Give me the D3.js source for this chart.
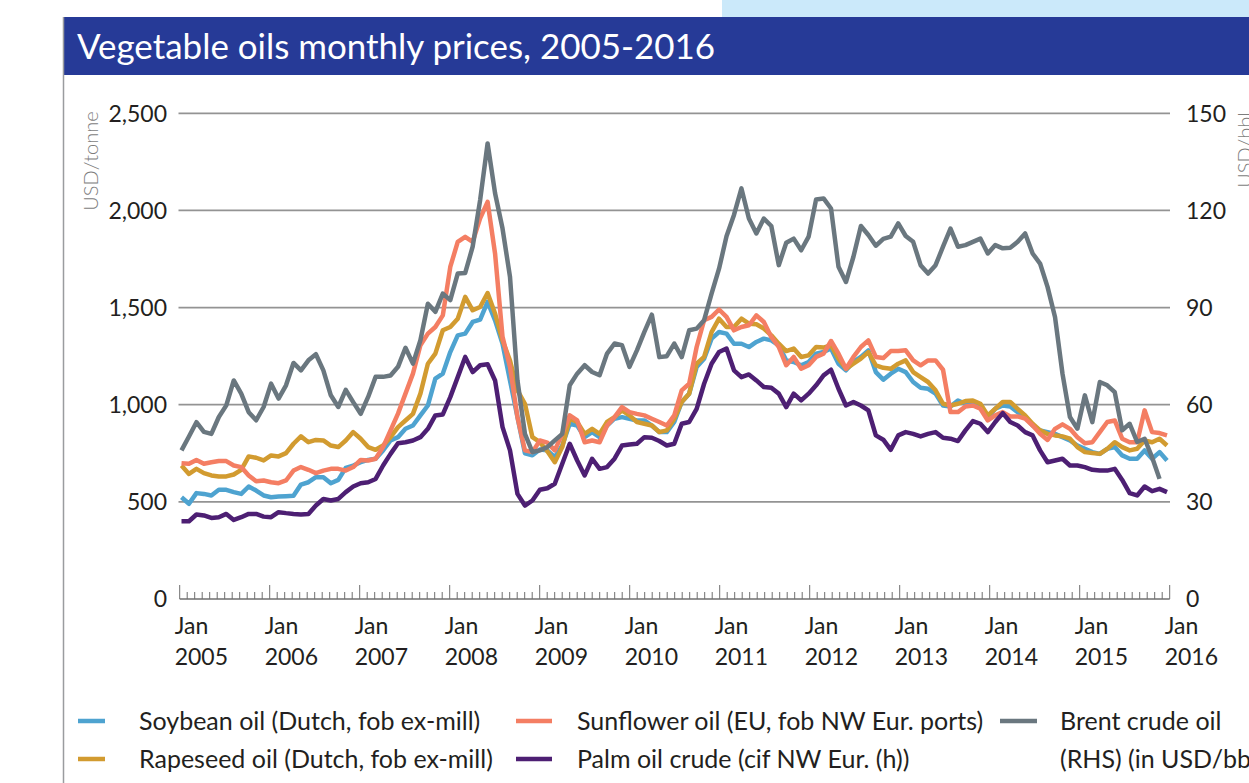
<!DOCTYPE html>
<html>
<head>
<meta charset="utf-8">
<script src="https://cdn.jsdelivr.net/npm/d3@7/dist/d3.min.js"></script>
<style>
  html, body { margin: 0; padding: 0; background: #fff; }
  svg { display: block; font-family: Lato, "Open Sans", sans-serif; }
</style>
</head>
<body>
<div id="chart"></div>
<script>
// monthly values, Jan 2005 onwards
const years = ["2005", "2006", "2007", "2008", "2009", "2010", "2011", "2012", "2013", "2014", "2015", "2016"];
const leftTicks = [0, 500, 1000, 1500, 2000, 2500];
const rightTicks = [0, 30, 60, 90, 120, 150];

const soybean = [
  524, 490, 545, 541, 533, 562, 562, 550, 541, 579, 558, 533,
  524, 527, 529, 531, 589, 601, 627, 627, 596, 613, 675, 687,
  704, 716, 722, 765, 816, 833, 876, 893, 945, 996, 1134, 1160,
  1271, 1357, 1366, 1426, 1438, 1529, 1434, 1314, 1125, 936, 750, 740,
  770, 765, 730, 790, 902, 893, 833, 859, 833, 893, 928, 936,
  928, 919, 919, 893, 859, 859, 911, 1014, 1057, 1194, 1237, 1340,
  1374, 1366, 1314, 1314, 1297, 1323, 1340, 1331, 1306, 1228, 1220, 1203,
  1220, 1263, 1271, 1289, 1211, 1177, 1220, 1246, 1280, 1168, 1129, 1160,
  1185, 1168, 1117, 1087, 1082, 1057, 996, 991, 1022, 1005, 1014, 988,
  936, 979, 996, 991, 962, 936, 893, 868, 859, 850, 833, 816,
  790, 773, 756, 747, 773, 782, 739, 722, 722, 765, 722, 756,
  713
];
const sunflower = [
  699, 696, 716, 696, 704, 710, 710, 687, 679, 636, 606, 610,
  601, 596, 610, 661, 679, 665, 648, 661, 670, 670, 661, 679,
  716, 713, 722, 782, 868, 954, 1057, 1160, 1306, 1366, 1400, 1460,
  1709, 1838, 1864, 1838, 1959, 2044, 1778, 1349, 1194, 936, 765, 756,
  816, 805, 765, 850, 945, 919, 807, 816, 807, 893, 936, 988,
  962, 953, 945, 928, 911, 893, 945, 1074, 1108, 1297, 1435, 1452,
  1490, 1452, 1383, 1400, 1409, 1460, 1426, 1349, 1297, 1203, 1246, 1185,
  1203, 1246, 1263, 1328, 1263, 1185, 1246, 1297, 1331, 1246, 1240, 1276,
  1276, 1280, 1228, 1203, 1228, 1228, 1180, 962, 962, 991, 996, 979,
  919, 945, 962, 940, 940, 928, 893, 850, 819, 876, 899, 876,
  833, 802, 807, 859, 911, 919, 825, 807, 807, 971, 859, 854,
  842
];
const rapeseed = [
  687, 644, 670, 648, 636, 631, 631, 641, 665, 734, 727, 713,
  739, 734, 751, 799, 837, 807, 819, 816, 790, 782, 816, 859,
  825, 782, 768, 790, 833, 885, 919, 953, 1057, 1211, 1263, 1383,
  1400, 1443, 1555, 1486, 1503, 1575, 1469, 1331, 1228, 1074, 1005, 833,
  807, 760, 704, 782, 928, 911, 850, 876, 850, 911, 936, 971,
  945, 911, 902, 893, 859, 868, 928, 1014, 1057, 1211, 1246, 1374,
  1443, 1400, 1400, 1443, 1417, 1414, 1392, 1357, 1314, 1276, 1289, 1246,
  1254, 1297, 1294, 1306, 1237, 1185, 1211, 1237, 1271, 1203, 1190, 1185,
  1211, 1228, 1168, 1142, 1117, 1074, 1005, 996, 1005, 1019, 1022, 1005,
  945, 979, 1014, 1014, 979, 945, 902, 868, 850, 842, 837, 825,
  782, 756, 751, 747, 773, 807, 782, 765, 773, 816, 807, 825,
  790
];
const palm = [
  400, 400, 435, 430, 417, 421, 438, 407, 421, 438, 438, 424,
  421, 447, 442, 438, 435, 438, 481, 515, 507, 515, 550, 579,
  596, 601, 618, 687, 747, 802, 807, 816, 833, 876, 945, 950,
  1039, 1142, 1246, 1168, 1203, 1208, 1125, 885, 765, 541, 481, 507,
  562, 570, 593, 696, 799, 713, 636, 722, 670, 679, 722, 790,
  795, 799, 833, 830, 813, 790, 799, 902, 911, 979, 1108, 1211,
  1271, 1289, 1177, 1142, 1156, 1125, 1091, 1087, 1057, 988, 1057, 1022,
  1057, 1100, 1151, 1180, 1082, 996, 1014, 996, 971, 842, 820, 768,
  842, 859, 850, 837, 850, 859, 830, 825, 813, 868, 916, 902,
  859, 911, 957, 911, 893, 859, 842, 765, 704, 713, 722, 687,
  687, 679, 665, 661, 661, 670, 613, 545, 533, 579, 555, 567,
  550
];
// USD/bbl, right hand scale
const brent = [
  45.9, 50.2, 54.6, 51.6, 51.0, 56.2, 59.8, 67.5, 63.4, 57.7, 55.2, 59.3,
  66.5, 61.9, 66.0, 72.9, 70.6, 73.7, 75.6, 70.6, 62.9, 59.3, 64.6, 60.8,
  57.2, 62.4, 68.6, 68.6, 69.0, 71.7, 77.6, 72.7, 79.9, 91.2, 88.7, 94.3,
  92.3, 100.5, 100.7, 108.8, 123.2, 140.7, 125.3, 114.4, 99.5, 67.5, 51.0, 45.4,
  45.9, 46.9, 49.0, 51.0, 66.0, 69.6, 72.2, 70.1, 69.1, 75.8, 78.9, 78.4,
  71.7, 76.8, 82.5, 87.8, 74.7, 75.0, 78.9, 74.7, 83.0, 83.5, 86.1, 94.3,
  102.0, 112.0, 118.6, 126.8, 117.5, 112.9, 117.5, 115.2, 103.1, 110.0, 111.3, 107.7,
  111.9, 123.4, 123.7, 120.6, 102.6, 97.9, 105.7, 115.2, 112.4, 109.1, 111.2, 111.9,
  116.0, 112.1, 110.3, 103.1, 100.5, 103.1, 108.8, 114.4, 108.8, 109.3, 110.3, 111.3,
  106.7, 109.3, 108.3, 108.5, 110.3, 112.9, 106.7, 103.6, 96.4, 87.1, 69.6, 56.2,
  52.6, 62.9, 54.6, 67.0, 66.0, 63.9, 52.1, 54.1, 48.5, 49.5, 43.8, 37.1
];

const series = [
  {name: "Soybean oil (Dutch, fob ex-mill)", values: soybean, color: "#4ea3d0", axis: "left"},
  {name: "Rapeseed oil (Dutch, fob ex-mill)", values: rapeseed, color: "#d29b30", axis: "left"},
  {name: "Sunflower oil (EU, fob NW Eur. ports)", values: sunflower, color: "#f47e63", axis: "left"},
  {name: "Palm oil crude (cif NW Eur. (h))", values: palm, color: "#4d1f73", axis: "left"},
  {name: "Brent crude oil", values: brent, color: "#6a777f", axis: "right"}
];

const W = 1249, H = 783;
const svg = d3.select("#chart").append("svg")
  .attr("width", W)
  .attr("height", H);

// header strip + card frame
svg.append("rect").attr("x", 722).attr("y", 0).attr("width", W - 722).attr("height", 18).attr("fill", "#cbe9fa");
svg.append("rect").attr("x", 63).attr("y", 17).attr("width", W - 63).attr("height", 58).attr("fill", "#263a97");
svg.append("line").attr("x1", 63.5).attr("x2", 63.5).attr("y1", 17).attr("y2", H)
  .attr("stroke", "#9a9c9f").attr("stroke-width", 1.5);
svg.append("text")
  .attr("x", 77).attr("y", 59)
  .attr("fill", "#fff")
  .attr("font-size", 35)
  .attr("textLength", 638)
  .attr("lengthAdjust", "spacingAndGlyphs")
  .text("Vegetable oils monthly prices, 2005-2016");

const plotTop = 113.3, plotBottom = 599;
const nMonths = 132;
// axis ticks and data points are not quite on the same grid in the original
const xTick = d3.scaleLinear().domain([0, nMonths]).range([179.7, 1169.7]);
const x = d3.scaleLinear().domain([0, nMonths]).range([181.5, 1167]);
const yL = d3.scaleLinear().domain([0, 2500]).range([plotBottom, plotTop]);
const yR = d3.scaleLinear().domain([0, 150]).range([plotBottom, plotTop]);

// gridlines
svg.append("g").selectAll("line")
  .data(leftTicks.filter(d => d > 0))
  .join("line")
  .attr("x1", 178.5).attr("x2", 1170)
  .attr("y1", d => yL(d)).attr("y2", d => yL(d))
  .attr("stroke", "#939393").attr("stroke-width", 1.7);

const labelStyle = g => g.attr("font-size", 23).attr("fill", "#231f20");

svg.append("g").call(labelStyle).selectAll("text")
  .data(leftTicks)
  .join("text")
  .attr("x", 167).attr("y", d => yL(d))
  .attr("dy", "0.36em")
  .attr("text-anchor", "end")
  .text(d3.format(","));

svg.append("g").call(labelStyle).selectAll("text")
  .data(rightTicks)
  .join("text")
  .attr("x", 1186).attr("y", d => yR(d))
  .attr("dy", "0.36em")
  .text(d => d);

svg.append("text")
  .attr("transform", "translate(98,161) rotate(-90)")
  .attr("text-anchor", "middle")
  .attr("font-size", 20).attr("font-weight", 300)
  .attr("fill", "#7d7d7d")
  .text("USD/tonne");
// runs off the right edge in the original too
svg.append("text")
  .attr("transform", "translate(1252,150) rotate(-90)")
  .attr("text-anchor", "middle")
  .attr("font-size", 20).attr("font-weight", 300)
  .attr("fill", "#7d7d7d")
  .text("USD/bbl");

// x axis: monthly ticks pointing up, taller on January
const xAxisG = svg.append("g");
xAxisG.append("line")
  .attr("x1", xTick(0)).attr("x2", xTick(nMonths))
  .attr("y1", plotBottom).attr("y2", plotBottom)
  .attr("stroke", "#6f6f6f").attr("stroke-width", 1.3);
xAxisG.selectAll(".tick")
  .data(d3.range(nMonths + 1))
  .join("line")
  .attr("class", "tick")
  .attr("x1", d => xTick(d)).attr("x2", d => xTick(d))
  .attr("y1", plotBottom)
  .attr("y2", d => d % 12 === 0 ? plotBottom - 14 : plotBottom - 7)
  .attr("stroke", "#6f6f6f").attr("stroke-width", 1);

const yearLabels = xAxisG.append("g").call(labelStyle).selectAll("text")
  .data(years)
  .join("text")
  .attr("x", (d, i) => xTick(i * 12) - 5)
  .attr("y", 634);
yearLabels.append("tspan").text("Jan");
yearLabels.append("tspan").attr("x", (d, i) => xTick(i * 12) - 5).attr("dy", 31).text(d => d);

// lines
const lineL = d3.line().x((d, i) => x(i)).y(d => yL(d));
const lineR = d3.line().x((d, i) => x(i)).y(d => yR(d));

svg.append("g").selectAll("path")
  .data(series)
  .join("path")
  .attr("d", s => s.axis === "left" ? lineL(s.values) : lineR(s.values))
  .attr("fill", "none")
  .attr("stroke", s => s.color)
  .attr("stroke-width", 4.5)
  .attr("stroke-linejoin", "round");

// legend
const legendItems = [
  {label: "Soybean oil (Dutch, fob ex-mill)", color: "#4ea3d0", x0: 78, x1: 105, tx: 139, y: 721},
  {label: "Rapeseed oil (Dutch, fob ex-mill)", color: "#d29b30", x0: 78, x1: 105, tx: 139, y: 759},
  {label: "Sunflower oil (EU, fob NW Eur. ports)", color: "#f47e63", x0: 516, x1: 552, tx: 577, y: 721},
  {label: "Palm oil crude (cif NW Eur. (h))", color: "#4d1f73", x0: 516, x1: 552, tx: 577, y: 759},
  {label: "Brent crude oil", color: "#6a777f", x0: 1000, x1: 1037, tx: 1060, y: 721},
  {label: "(RHS) (in USD/bbl)", color: null, tx: 1060, y: 759}
];
const leg = svg.append("g").selectAll("g")
  .data(legendItems)
  .join("g");
leg.filter(d => d.color).append("line")
  .attr("x1", d => d.x0).attr("x2", d => d.x1)
  .attr("y1", d => d.y).attr("y2", d => d.y)
  .attr("stroke", d => d.color).attr("stroke-width", 4.5);
leg.append("text")
  .attr("font-size", 25).attr("fill", "#231f20")
  .attr("x", d => d.tx).attr("y", d => d.y)
  .attr("dy", "0.36em")
  .text(d => d.label);
</script>
</body>
</html>
